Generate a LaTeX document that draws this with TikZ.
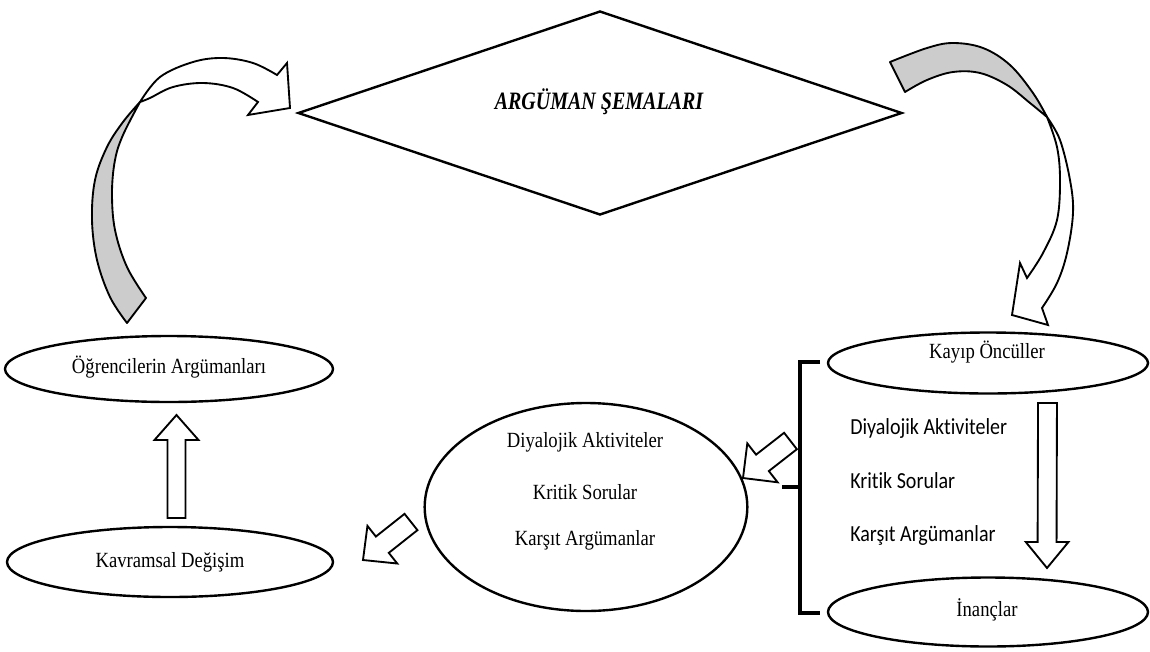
\documentclass[tikz,border=0pt]{standalone}
\usepackage{graphicx}
\usepackage{fontspec}
\setmainfont{Liberation Serif}
\newfontfamily\cbfont[Ligatures=NoCommon]{Carlito}
\usetikzlibrary{shapes.geometric,calc}

% tall lettering used throughout the chart
\newcommand{\tallserif}[1]{\scalebox{1}[1.16]{#1}}
\newcommand{\tallsans}[1]{\scalebox{1}[1.15]{#1}}
\newcommand{\talltitle}[1]{\scalebox{1}[1.25]{#1}}

\tikzset{
  oval/.style={ellipse, draw, line width=1.8pt, inner sep=0pt},
  serif/.style={font=\fontsize{14}{16}\selectfont, inner sep=0pt},
  sanstxt/.style={font=\cbfont\fontsize{15}{18}\selectfont, anchor=west, inner sep=0pt},
  blk/.style={draw, line width=1.4pt, fill=white, line join=miter},
  shadeband/.style={draw, line width=1.4pt, fill=gray!40, line join=round},
  bandfront/.style={draw, line width=1.4pt, fill=white, line join=miter},
  bracketline/.style={line width=2.4pt}
}

% straight block arrow: tail, tip, shaft half-width, head half-width, head length
\newcommand{\blockarrow}[5]{%
  \coordinate (ba-h) at ($(#2)!#5!(#1)$);
  \draw[blk] ($(#1)!#3!90:(#2)$) -- ($(ba-h)!#3!90:(#2)$) -- ($(ba-h)!#4!90:(#2)$)
    -- (#2) -- ($(ba-h)!#4!-90:(#2)$) -- ($(ba-h)!#3!-90:(#2)$) -- ($(#1)!#3!-90:(#2)$) -- cycle;
}

\begin{document}
\begin{tikzpicture}[x=0.75pt, y=-0.75pt]
\useasboundingbox (0,0) rectangle (1150,651);

% central diamond
\node[diamond, draw, line width=1.8pt, aspect=3, inner sep=0pt,
      minimum width=453pt, minimum height=153pt] (sema) at (600,113) {};
\node[font=\fontsize{15}{18}\selectfont\bfseries\itshape, inner sep=0pt] (semat) at (599,102) {\talltitle{ARGÜMAN ŞEMALARI}};

% ellipses
\node[oval, minimum width=246pt, minimum height=49.5pt] (ogr) at (169,369) {};
\node[serif] (ogrt) at (169,367) {\tallserif{Öğrencilerin Argümanları}};

\node[oval, minimum width=244.5pt, minimum height=52.5pt] (kav) at (170,562) {};
\node[serif] (kavt) at (170,562) {\tallserif{Kavramsal Değişim}};

\node[oval, minimum width=242pt, minimum height=156pt] (mrk) at (586,507) {};
\node[serif] (m1) at (585,442) {\tallserif{Diyalojik Aktiviteler}};
\node[serif] (m2) at (585,492) {\tallserif{Kritik Sorular}};
\node[serif] (m3) at (585,540) {\tallserif{Karşıt Argümanlar}};

\node[oval, minimum width=240pt, minimum height=45.75pt] (kayip) at (988,363) {};
\node[serif] (kayipt) at (987,352) {\tallserif{Kayıp Öncüller}};

\node[oval, minimum width=240pt, minimum height=51.75pt] (inanc) at (988,612) {};
\node[serif] (inanct) at (987,610) {\tallserif{İnançlar}};

% sans list beside the bracket
\node[sanstxt] (s1) at (850,428) {\tallsans{Diyalojik Aktiviteler}};
\node[sanstxt] (s2) at (850,481) {\tallsans{Kritik Sorular}};
\node[sanstxt] (s3) at (850,535) {\tallsans{Karşıt Argümanlar}};

% bracket
\coordinate (bt) at (820,362);
\coordinate (bb) at (820,613);
\coordinate (bm) at (782,487);
\draw[bracketline] (bt) -- (800,362) -- (800,613) -- (bb);
\draw[bracketline] (bm) -- (800,487);

% straight block arrows
\coordinate (upTail) at (176.5,518);
\coordinate (upTip) at (176.5,415);
\blockarrow{upTail}{upTip}{6.75pt}{16.5pt}{18.75pt}

\coordinate (dnTail) at (1047.5,403);
\coordinate (dnTip) at (1047,568);
\blockarrow{dnTail}{dnTip}{7.1pt}{16pt}{19.5pt}

\coordinate (d1Tail) at (411,522);
\coordinate (d1Tip) at (363,560);
\blockarrow{d1Tail}{d1Tip}{7.8pt}{18pt}{18.5pt}

\coordinate (d2Tail) at (790.5,441);
\coordinate (d2Tip) at (743,478);
\blockarrow{d2Tail}{d2Tip}{7.8pt}{18.5pt}{18.5pt}

% curved arrow from the left ellipse up to the diamond
\filldraw[shadeband]
  plot[smooth, tension=0.6] coordinates {(127,323) (110,297) (97,260) (92,220) (95,180) (107,147) (123,122) (140,102)}
  -- plot[smooth, tension=0.6] coordinates {(140,102) (123,135) (115,160) (112,193) (115,230) (127,267) (146,298)}
  -- cycle;
\filldraw[bandfront]
  plot[smooth, tension=0.6] coordinates {(140,102) (160,77) (193,62) (223,58) (253,63) (277,75)}
  -- (287,63) -- (290,108) -- (248,115) -- (258,102)
  -- plot[smooth, tension=0.6] coordinates {(258,102) (233,88) (203,83) (173,87) (150,98) (140,102)}
  -- cycle;

% curved arrow from the diamond down to the right ellipse
\filldraw[shadeband]
  plot[smooth, tension=0.6] coordinates {(890,62) (927,48) (953,43) (983,48) (1010,65) (1033,93) (1047,117)}
  -- plot[smooth, tension=0.6] coordinates {(1047,117) (1030,103) (1007,85) (980,73) (953,72) (927,80) (905,92)}
  -- cycle;
\filldraw[bandfront]
  plot[smooth, tension=0.6] coordinates {(1047,117) (1060,140) (1070,180) (1073,213) (1067,253) (1057,283) (1042,308)}
  -- (1048,325) -- (1012,315) -- (1020,263) -- (1027,278)
  -- plot[smooth, tension=0.6] coordinates {(1027,278) (1043,253) (1057,220) (1060,180) (1057,147) (1047,117)}
  -- cycle;

\end{tikzpicture}
\end{document}
